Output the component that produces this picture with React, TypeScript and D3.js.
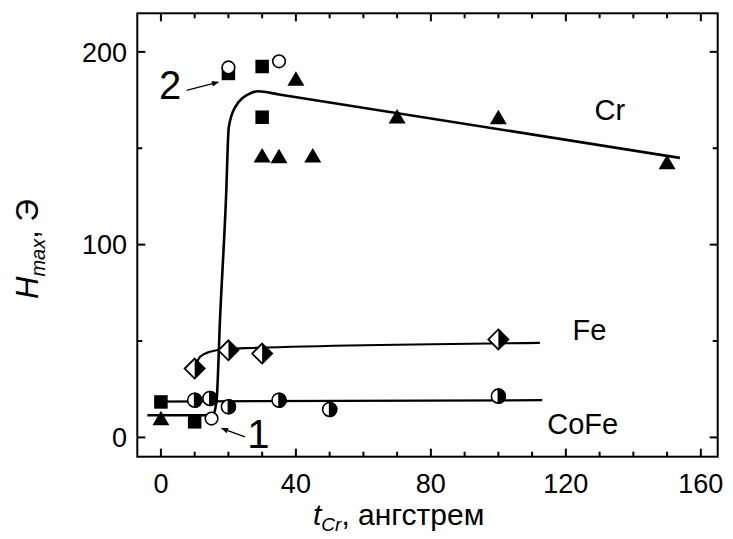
import * as d3 from "d3";
import React from "react";

// measured points (x = t_Cr, angstrom; y = H_max, Oe)
const squares = [[0, 18.4], [10, 8.1], [20, 188.8], [30, 192.4], [30, 166.1]];
const triangles = [[0, 10], [30, 146.3], [35, 145.8], [40, 186], [45, 146.3], [70, 166.5], [100, 166.1], [150, 142.8]];
const openCircles = [[15, 9.8], [20, 191.9], [35, 195.1]];
const coFeCircles = [[10, 19.3], [14.5, 20.2], [20, 15.9], [35, 19.3], [50, 14.5], [100, 21.4]];
const feDiamonds = [[10, 35.7], [20, 45.2], [30, 43.5], [100, 50.8]];

// fit curves
const crFit = [[-4, 11.5], [12, 11.5], [15.4, 11.6], [16.5, 19.3], [17.5, 60.8], [19.3, 124.5], [20.1, 160.8], [21.9, 171], [26.4, 178.4], [28.7, 179.6], [35, 177.9], [153.8, 145]];
const feFit = [[10, 35.7], [11.6, 41.8], [14.5, 44.4], [16.5, 45.2], [21.9, 46.1], [112.3, 49]];
const coFeFit = [[-2, 18.6], [113, 19.3]];

const xTicks = [0, 40, 80, 120, 160];
const xMinor = d3.range(0, 161, 10);
const yTicks = [0, 100, 200];
const yMinor = [50, 150];

const curveLabels = [
  { text: "Cr", x: 128.5, y: 164.6 },
  { text: "Fe", x: 122, y: 50.5 },
  { text: "CoFe", x: 114.5, y: 1.7 },
];

const W = 733, H = 539;
const left = 137.3, right = 717.7, top = 13.3, bottom = 456.7;
const font = "'Liberation Sans', Arial, sans-serif";

export default function App() {
  const x = d3.scaleLinear().domain([-7, 165]).range([left, right]);
  const y = d3.scaleLinear().domain([-10, 220]).range([bottom, top]);
  const line = d3.line<number[]>().x(d => x(d[0])).y(d => y(d[1])).curve(d3.curveMonotoneX);

  const sq = 13.5, r = 7, dr = 10;

  return (
    <svg width={W} height={H} style={{ display: "block" }} fontFamily={font}>
      <style>{`body{margin:0}`}</style>
      <defs>
        <marker id="arr" viewBox="0 0 10 10" refX="9" refY="5" markerWidth="9" markerHeight="7" orient="auto" markerUnits="userSpaceOnUse">
          <path d="M0,1 L10,5 L0,9 Z" fill="#000" />
        </marker>
      </defs>
      <rect width={W} height={H} fill="#fff" />

      {/* fits */}
      <path d={line(crFit as any) || ""} fill="none" stroke="#000" strokeWidth={2.6} />
      <path d={line(feFit as any) || ""} fill="none" stroke="#000" strokeWidth={2.2} />
      <path d={line(coFeFit as any) || ""} fill="none" stroke="#000" strokeWidth={2.2} />

      {/* markers */}
      {squares.map((d, i) => (
        <rect key={"s" + i} x={x(d[0]) - sq / 2} y={y(d[1]) - sq / 2} width={sq} height={sq} fill="#000" />
      ))}
      {triangles.map((d, i) => {
        const cx = x(d[0]), cy = y(d[1]);
        return <path key={"t" + i} d={`M${cx - 8.5},${cy + 7} L${cx + 8.5},${cy + 7} L${cx},${cy - 7.5} Z`} fill="#000" />;
      })}
      {openCircles.map((d, i) => (
        <circle key={"o" + i} cx={x(d[0])} cy={y(d[1])} r={6.3} fill="#fff" stroke="#000" strokeWidth={1.6} />
      ))}
      {coFeCircles.map((d, i) => {
        const cx = x(d[0]), cy = y(d[1]);
        return (
          <g key={"c" + i}>
            <circle cx={cx} cy={cy} r={r} fill="#fff" stroke="#000" strokeWidth={1.6} />
            <path d={`M${cx},${cy - r} A${r},${r} 0 0 1 ${cx},${cy + r} Z`} fill="#000" stroke="#000" strokeWidth={1.6} />
          </g>
        );
      })}
      {feDiamonds.map((d, i) => {
        const cx = x(d[0]), cy = y(d[1]);
        return (
          <g key={"d" + i}>
            <path d={`M${cx},${cy - dr} L${cx + dr},${cy} L${cx},${cy + dr} L${cx - dr},${cy} Z`} fill="#fff" stroke="#000" strokeWidth={1.8} strokeLinejoin="miter" />
            <path d={`M${cx},${cy - dr} L${cx + dr},${cy} L${cx},${cy + dr} Z`} fill="#000" />
          </g>
        );
      })}

      {/* frame */}
      <rect x={left} y={top} width={right - left} height={bottom - top} fill="none" stroke="#000" strokeWidth={2} />
      {xMinor.map(t => {
        const len = xTicks.includes(t) ? 8 : 5;
        return (
          <g key={"xt" + t} stroke="#000" strokeWidth={2}>
            <line x1={x(t)} x2={x(t)} y1={bottom} y2={bottom - len} />
            <line x1={x(t)} x2={x(t)} y1={top} y2={top + len} />
          </g>
        );
      })}
      {[...yTicks, ...yMinor].map(t => {
        const len = yTicks.includes(t) ? 8 : 5;
        return (
          <g key={"yt" + t} stroke="#000" strokeWidth={2}>
            <line x1={left} x2={left + len} y1={y(t)} y2={y(t)} />
            <line x1={right} x2={right - len} y1={y(t)} y2={y(t)} />
          </g>
        );
      })}
      {xTicks.map(t => (
        <text key={"xl" + t} x={x(t)} y={493} textAnchor="middle" fontSize={27}>{t}</text>
      ))}
      {yTicks.map(t => (
        <text key={"yl" + t} x={127} y={y(t)} dy="0.36em" textAnchor="end" fontSize={27}>{t}</text>
      ))}

      {/* axis titles */}
      <text x={313} y={525} fontSize={30}>
        <tspan fontStyle="italic">t</tspan>
        <tspan fontStyle="italic" fontSize={19} dy={6}>Cr</tspan>
        <tspan dy={-6}>, ангстрем</tspan>
      </text>
      <text transform="translate(38,299) rotate(-90)" fontSize={31}>
        <tspan fontStyle="italic">H</tspan>
        <tspan fontStyle="italic" fontSize={20} dy={7}>max</tspan>
        <tspan dy={-7}>, Э</tspan>
      </text>

      {/* curve labels */}
      {curveLabels.map(l => (
        <text key={l.text} x={x(l.x)} y={y(l.y)} fontSize={29}>{l.text}</text>
      ))}

      {/* annotations */}
      <text x={x(-0.6)} y={y(175.8)} fontSize={40}>2</text>
      <line x1={x(7.6)} y1={y(180)} x2={x(17)} y2={y(184.3)} stroke="#000" strokeWidth={1.2} markerEnd="url(#arr)" />
      <text x={x(25.6)} y={y(-5.5)} fontSize={40}>1</text>
      <line x1={x(24.9)} y1={y(0.3)} x2={x(18)} y2={y(4.7)} stroke="#000" strokeWidth={1.2} markerEnd="url(#arr)" />
    </svg>
  );
}
